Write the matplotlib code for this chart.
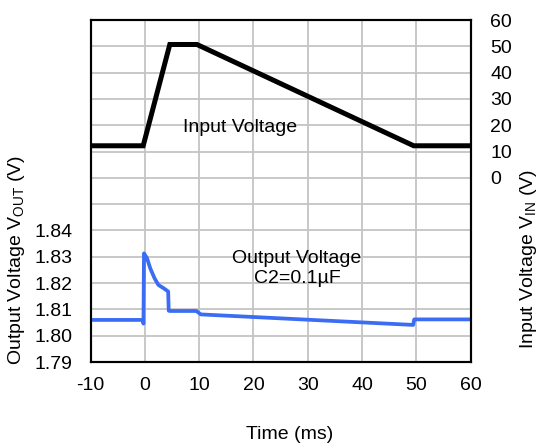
import numpy as np
import matplotlib
matplotlib.use("Agg")
import matplotlib.pyplot as plt

plt.rcParams["font.family"] = ["Liberation Sans", "DejaVu Sans"]
plt.rcParams["font.size"] = 14
plt.rcParams["axes.unicode_minus"] = False

# input voltage trace (ms, V)
t_in = [-10, -0.3, 4.6, 9.6, 49.5, 60]
v_in = [12.2, 12.2, 50.7, 50.7, 12.2, 12.2]

# output voltage trace (ms, V)
t_out = [-10, -0.35, -0.25, -0.15, 0.4, 1.0, 1.8, 2.5, 3.5, 4.3, 4.4, 4.6, 9.5, 10.3, 49.4, 49.6, 60]
v_out = [1.8060, 1.8060, 1.8046, 1.8313, 1.8295, 1.8256, 1.8218, 1.8193, 1.8180, 1.8168,
         1.8095, 1.8094, 1.8094, 1.8081, 1.8041, 1.8062, 1.8062]

x_ticks = [-10, 0, 10, 20, 30, 40, 50, 60]
out_ticks = np.round(np.arange(1.79, 1.9201, 0.01), 2)
out_labels = ["1.79", "1.80", "1.81", "1.82", "1.83", "1.84"]
in_ticks = [0, 10, 20, 30, 40, 50, 60]

fig = plt.figure(figsize=(5.4, 4.46), dpi=100)
ax = fig.add_axes([0.1676, 0.1883, 0.7041, 0.7668])
ax2 = ax.twinx()

ax.plot(t_out, v_out, color="#3a6cf4", lw=2.7, zorder=3)
ax2.plot(t_in, v_in, color="black", lw=3.6, solid_joinstyle="miter")

ax.set_xlim(-10, 60)
ax.set_ylim(1.79, 1.92)
ax.set_xticks(x_ticks)
ax.set_yticks(out_ticks)
ax.set_yticklabels(out_labels + [""] * (len(out_ticks) - len(out_labels)))
ax.grid(True, color="#c4c4c4", lw=1.3)
ax.set_axisbelow(True)
ax.tick_params(axis="both", length=0)
ax.tick_params(axis="y", pad=13)
ax.tick_params(axis="x", pad=11)

ax2.set_ylim(-70, 60)
ax2.set_yticks(in_ticks)
ax2.tick_params(axis="y", length=0, pad=14)

for a in (ax, ax2):
    for s in a.spines.values():
        s.set_linewidth(1.5)
        s.set_color("black")

ax.set_xlabel("Time (ms)")
ax.xaxis.set_label_coords(0.525, -0.187)
ax.set_ylabel(r"Output Voltage V$\mathregular{_{OUT}}$ (V)")
ax.yaxis.set_label_coords(-0.168, 0.30)
ax2.set_ylabel(r"Input Voltage V$\mathregular{_{IN}}$ (V)")
ax2.yaxis.set_label_coords(1.125, 0.30)

ax2.text(17.5, 19.3, "Input Voltage", ha="center", va="center")
ax.text(28.0, 1.8256, "Output Voltage\nC2=0.1µF", ha="center", va="center",
        linespacing=1.25)

fig.savefig("out.png", dpi=100)
